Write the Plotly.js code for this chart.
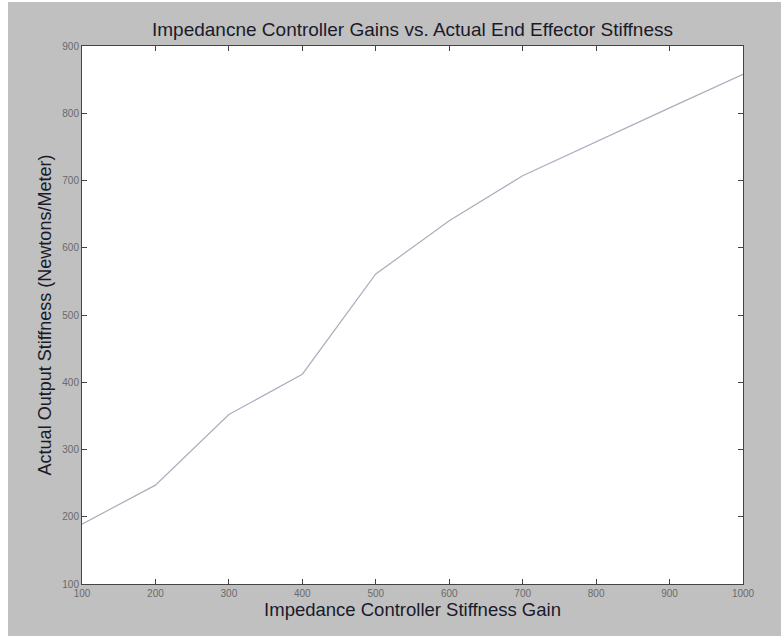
<!DOCTYPE html>
<html>
<head>
<meta charset="utf-8">
<script src="https://cdn.plot.ly/plotly-3.0.1.min.js"></script>
<style>
  html, body { margin: 0; padding: 0; background: #ffffff; }
  #chart { position: absolute; left: 8px; top: 2px; width: 773px; height: 634px; }
</style>
</head>
<body>
<div id="chart"></div>
<script>
// Data
const gains = [100, 200, 300, 400, 500, 600, 700, 800, 900, 1000];
const stiffness = [189, 247, 352, 412, 561, 640, 707, 758, 808, 858];
const xTicks = [100, 200, 300, 400, 500, 600, 700, 800, 900, 1000];
const yTicks = [100, 200, 300, 400, 500, 600, 700, 800, 900];

const chartTitle = "Impedancne Controller Gains vs. Actual End Effector Stiffness";
const xTitle = "Impedance Controller Stiffness Gain";
const yTitle = "Actual Output Stiffness (Newtons/Meter)";

const trace = {
  x: gains,
  y: stiffness,
  type: "scatter",
  mode: "lines",
  line: { color: "rgb(172,172,190)", width: 1.2 },
  hoverinfo: "x+y"
};

const tickFont = { family: "Liberation Sans, Arial, sans-serif", size: 10, color: "#6a6a6a" };

const layout = {
  width: 773,
  height: 634,
  paper_bgcolor: "#c0c0c0",
  plot_bgcolor: "#ffffff",
  margin: { l: 74, r: 38, t: 44, b: 52, pad: 0 },
  showlegend: false,
  title: {
    text: chartTitle,
    font: { family: "Liberation Sans, Arial, sans-serif", size: 19, color: "#1a1a2a" },
    x: 0.5, xref: "paper", xanchor: "center",
    y: 1 - 27 / 634, yref: "container", yanchor: "middle"
  },
  xaxis: {
    range: [100, 1000],
    tickvals: xTicks,
    ticktext: xTicks.map(String),
    ticks: "inside",
    ticklen: 5,
    tickcolor: "#444",
    tickfont: tickFont,
    showgrid: false,
    zeroline: false,
    showline: true,
    linecolor: "#444",
    linewidth: 1,
    mirror: "ticks",
    title: {
      text: xTitle,
      font: { family: "Liberation Sans, Arial, sans-serif", size: 18.5, color: "#1a1a2a" },
      standoff: 5
    }
  },
  yaxis: {
    range: [100, 900],
    tickvals: yTicks,
    ticktext: yTicks.map(String),
    ticks: "inside",
    ticklen: 5,
    tickcolor: "#444",
    tickfont: tickFont,
    showgrid: false,
    zeroline: false,
    showline: true,
    linecolor: "#444",
    linewidth: 1,
    mirror: "ticks",
    title: {
      text: yTitle,
      font: { family: "Liberation Sans, Arial, sans-serif", size: 18, color: "#1a1a2a" },
      standoff: 6
    }
  }
};

Plotly.newPlot("chart", [trace], layout, { displayModeBar: false, staticPlot: true });
</script>
</body>
</html>
